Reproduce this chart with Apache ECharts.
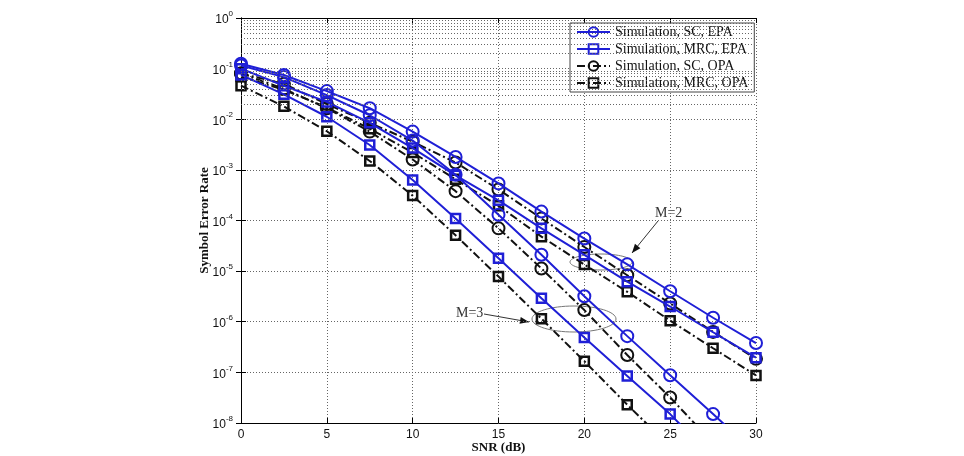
<!DOCTYPE html>
<html>
<head>
<meta charset="utf-8">
<script src="https://cdn.jsdelivr.net/npm/echarts@6/dist/echarts.min.js"></script>
<style>
  html, body { margin: 0; padding: 0; background: #fff; }
  #myChart { width: 964px; height: 456px; }
</style>
</head>
<body>
<div id="myChart"></div>
<script>
// SNR points (dB)
const snr = [0, 2.5, 5, 7.5, 10, 12.5, 15, 17.5, 20, 22.5, 25, 27.5, 30]

// M=2 curves
const m2ScEpa = [0.125, 0.075, 0.036, 0.0165, 0.0057, 0.0018, 5.4e-4, 1.5e-4, 4.4e-5, 1.36e-5, 4.0e-6, 1.2e-6, 3.8e-7]
const m2MrcEpa = [0.1, 0.046, 0.022, 0.0085, 2.7e-3, 7.8e-4, 2.5e-4, 7e-5, 2.1e-5, 6.2e-6, 2.0e-6, 6.2e-7, 1.95e-7]
const m2ScOpa = [0.08, 0.05, 0.02, 0.0085, 3.6e-3, 1.4e-3, 4.1e-4, 1.1e-4, 3.0e-5, 8.3e-6, 2.3e-6, 6.3e-7, 1.85e-7]
const m2MrcOpa = [0.07, 0.038, 0.017, 0.0065, 2.2e-3, 6.5e-4, 1.95e-4, 4.8e-5, 1.35e-5, 3.9e-6, 1.05e-6, 3.0e-7, 8.7e-8]

// M=3 curves (last points run below the axis and get clipped)
const m3ScEpa = [0.115, 0.068, 0.03, 0.012, 3.8e-3, 8e-4, 1.3e-4, 2.1e-5, 3.2e-6, 5.2e-7, 8.8e-8, 1.5e-8, 2.5e-9]
const m3MrcEpa = [0.075, 0.031, 0.0112, 3.1e-3, 6.3e-4, 1.1e-4, 1.8e-5, 2.9e-6, 4.9e-7, 8.5e-8, 1.5e-8, 2e-9, null]
const m3ScOpa = [0.08, 0.04, 0.0165, 0.0057, 1.6e-3, 3.8e-4, 7e-5, 1.13e-5, 1.7e-6, 2.2e-7, 3.2e-8, 4e-9, null]
const m3MrcOpa = [0.046, 0.018, 0.0058, 1.5e-3, 3.1e-4, 5.1e-5, 7.8e-6, 1.15e-6, 1.66e-7, 2.3e-8, 3.4e-9, null, null]

const legendNames = ['Simulation, SC, EPA', 'Simulation, MRC, EPA', 'Simulation, SC, OPA', 'Simulation, MRC, OPA']

// minor grid values 2..9 x 10^k
const minorY = []
for (let k = -8; k < 0; k++) {
    for (let m = 2; m <= 9; m++) minorY.push(m * Math.pow(10, k))
}

const BLUE = '#1f1fd6'
const BLACK = '#111'
const dotted = [1, 2]

function mk(name, vals, color, symbol, dashed) {
    let isRect = symbol === 'rect'
    return {
        name: name,
        type: 'line',
        data: snr.map((x, i) => [x, vals[i]]).filter(p => p[1] != null),
        symbol: symbol,
        symbolSize: isRect ? 9 : 12,
        clip: true,
        lineStyle: { color: color, width: 2, type: dashed ? [8, 3, 2, 3] : 'solid' },
        itemStyle: { color: 'rgba(255,255,255,0)', borderColor: color, borderWidth: isRect ? 2.5 : 2 },
        emphasis: { disabled: true },
        z: dashed ? 3 : 4
    }
}

let series = [
    mk(legendNames[0], m2ScEpa, BLUE, 'circle', false),
    mk(legendNames[1], m2MrcEpa, BLUE, 'rect', false),
    mk(legendNames[2], m2ScOpa, BLACK, 'circle', true),
    mk(legendNames[3], m2MrcOpa, BLACK, 'rect', true),
    mk(legendNames[0], m3ScEpa, BLUE, 'circle', false),
    mk(legendNames[1], m3MrcEpa, BLUE, 'rect', false),
    mk(legendNames[2], m3ScOpa, BLACK, 'circle', true),
    mk(legendNames[3], m3MrcOpa, BLACK, 'rect', true)
]
// minor horizontal grid
series[0].markLine = {
    silent: true,
    symbol: ['none', 'none'],
    label: { show: false },
    animation: false,
    lineStyle: { color: '#666', width: 1, type: dotted },
    data: minorY.map(v => ({ yAxis: v }))
}

// arrow head helper for annotations
function arrowHead(x1, y1, x2, y2) {
    let a = Math.atan2(y2 - y1, x2 - x1), L = 9, W = 3.5
    let bx = x2 - L * Math.cos(a), by = y2 - L * Math.sin(a)
    return [[x2, y2], [bx + W * Math.sin(a), by - W * Math.cos(a)], [bx - W * Math.sin(a), by + W * Math.cos(a)]]
}

const serif = 'Liberation Serif'
const sans = 'Liberation Sans'

let myChart = echarts.init(document.getElementById('myChart'))
myChart.setOption({
    animation: false,
    backgroundColor: '#fff',
    grid: { left: 241, right: 208, top: 18, bottom: 33, outerBoundsMode: 'none', containLabel: false },
    legend: {
        data: legendNames,
        orient: 'vertical',
        left: 570,
        top: 23,
        padding: [2, 6, 2, 6],
        itemGap: 3,
        itemWidth: 33,
        itemHeight: 12,
        borderColor: '#444',
        borderWidth: 1,
        backgroundColor: '#fff',
        selectedMode: false,
        textStyle: { fontFamily: serif, fontSize: 14, color: '#111' }
    },
    xAxis: [{
        type: 'value', min: 0, max: 30, interval: 5,
        name: 'SNR (dB)', nameLocation: 'middle', nameGap: 18, nameMoveOverlap: false,
        nameTextStyle: { fontFamily: serif, fontWeight: 'bold', fontSize: 13, color: '#111' },
        axisLine: { lineStyle: { color: '#000', width: 1 } },
        axisTick: { inside: true, length: 5, lineStyle: { color: '#000' } },
        axisLabel: { fontFamily: sans, fontSize: 12, color: '#111', margin: 6 },
        splitLine: { show: true, lineStyle: { color: '#666', width: 1, type: dotted } }
    }, {
        type: 'value', min: 0, max: 30, interval: 5, position: 'top',
        axisLine: { lineStyle: { color: '#000', width: 1 } },
        axisTick: { inside: true, length: 5, lineStyle: { color: '#000' } },
        axisLabel: { show: false },
        splitLine: { show: false }
    }],
    yAxis: [{
        type: 'log', logBase: 10, min: 1e-8, max: 1, splitNumber: 8,
        name: 'Symbol Error Rate', nameLocation: 'middle', nameGap: 30, nameMoveOverlap: false,
        nameTextStyle: { fontFamily: serif, fontWeight: 'bold', fontSize: 13, color: '#111' },
        axisLine: { show: true, lineStyle: { color: '#000', width: 1 } },
        axisTick: { show: true, inside: true, length: 5, lineStyle: { color: '#000' } },
        axisLabel: {
            margin: 8,
            formatter: v => '{b|10}{s|' + Math.round(Math.log10(v)) + '}',
            rich: {
                b: { fontFamily: sans, fontSize: 12, color: '#111', verticalAlign: 'bottom', lineHeight: 16 },
                s: { fontFamily: sans, fontSize: 8, color: '#111', verticalAlign: 'top', lineHeight: 16 }
            }
        },
        splitLine: { show: true, lineStyle: { color: '#666', width: 1, type: dotted } }
    }, {
        type: 'log', logBase: 10, min: 1e-8, max: 1, splitNumber: 8, position: 'right',
        axisLine: { show: true, lineStyle: { color: '#000', width: 1 } },
        axisTick: { show: true, inside: true, length: 5, lineStyle: { color: '#000' } },
        axisLabel: { show: false },
        splitLine: { show: false }
    }],
    series: series,
    graphic: [
        { type: 'text', left: 655, top: 206, style: { text: 'M=2', fontFamily: serif, fontSize: 14, fill: '#333' } },
        { type: 'line', shape: { x1: 658, y1: 221, x2: 632, y2: 253 }, style: { stroke: '#333', lineWidth: 1 } },
        { type: 'polygon', shape: { points: arrowHead(658, 221, 632, 253) }, style: { fill: '#111' } },
        { type: 'ellipse', shape: { cx: 601, cy: 262, rx: 31, ry: 8 }, style: { stroke: '#777', fill: null, lineWidth: 1 } },
        { type: 'text', left: 456, top: 306, style: { text: 'M=3', fontFamily: serif, fontSize: 14, fill: '#333' } },
        { type: 'line', shape: { x1: 484, y1: 314, x2: 529, y2: 322 }, style: { stroke: '#333', lineWidth: 1 } },
        { type: 'polygon', shape: { points: arrowHead(484, 314, 529, 322) }, style: { fill: '#111' } },
        { type: 'ellipse', shape: { cx: 574, cy: 319, rx: 42, ry: 13 }, style: { stroke: '#777', fill: null, lineWidth: 1 } }
    ]
})
</script>
</body>
</html>
